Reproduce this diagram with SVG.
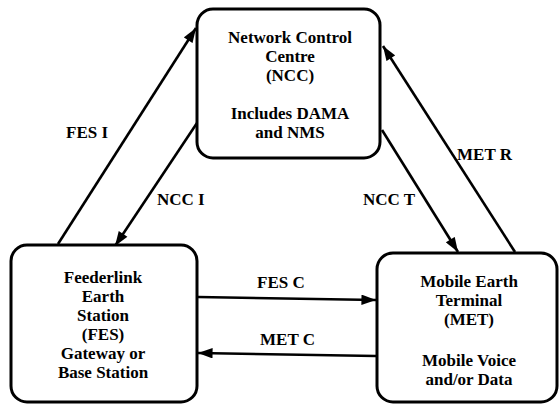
<svg xmlns="http://www.w3.org/2000/svg" width="560" height="406" viewBox="0 0 560 406" font-family="Liberation Serif, DejaVu Serif, serif">
<style>
.box{fill:#fff;stroke:#000;stroke-width:3}
text{font-family:"Liberation Serif",serif;font-weight:bold;font-size:17px;fill:#000}
.t{text-anchor:middle}
.c{stroke:#000;stroke-width:2.6;fill:none;marker-end:url(#ah)}
</style>
<defs>
<marker id="ah" viewBox="0 0 14 10" refX="14" refY="5" markerWidth="6" markerHeight="4" orient="auto" markerUnits="strokeWidth">
<path d="M0,0 L14,5 L0,10 z" fill="#000"/>
</marker>
</defs>
<g id="connectors">
<line class="c" x1="58" y1="244" x2="196" y2="28"/>
<line class="c" x1="197" y1="123" x2="115" y2="246"/>
<line class="c" x1="382" y1="130" x2="458" y2="252"/>
<line class="c" x1="515" y1="252" x2="383" y2="46"/>
<line class="c" x1="198" y1="297" x2="376" y2="300"/>
<line class="c" x1="376" y1="356" x2="198" y2="353"/>
<text x="66" y="138">FES I</text>
<text x="157" y="205">NCC I</text>
<text x="363" y="205">NCC T</text>
<text x="457" y="160">MET R</text>
<text x="257" y="288">FES C</text>
<text x="260" y="345">MET C</text>
</g>
<g id="ncc">
<rect class="box" x="197" y="9" width="183" height="149" rx="16"/>
<text class="t" x="290" y="43">Network Control</text>
<text class="t" x="290" y="62">Centre</text>
<text class="t" x="290" y="81">(NCC)</text>
<text class="t" x="290" y="119">Includes DAMA</text>
<text class="t" x="290" y="138">and NMS</text>
</g>
<g id="fes">
<rect class="box" x="11" y="245" width="186" height="157" rx="16"/>
<text class="t" x="103" y="283">Feederlink</text>
<text class="t" x="103" y="302">Earth</text>
<text class="t" x="103" y="321">Station</text>
<text class="t" x="103" y="340">(FES)</text>
<text class="t" x="103" y="359">Gateway or</text>
<text class="t" x="103" y="378">Base Station</text>
</g>
<g id="met">
<rect class="box" x="377" y="253" width="180" height="149" rx="16"/>
<text class="t" x="469" y="287">Mobile Earth</text>
<text class="t" x="469" y="306">Terminal</text>
<text class="t" x="469" y="325">(MET)</text>
<text class="t" x="469" y="366">Mobile Voice</text>
<text class="t" x="469" y="385">and/or Data</text>
</g>
</svg>
